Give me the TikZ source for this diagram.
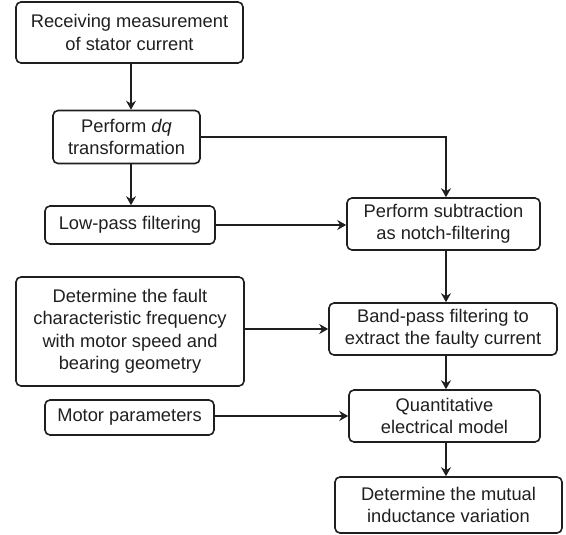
\documentclass[tikz,border=0pt]{standalone}
\usepackage{fontspec}
\setmainfont{Liberation Sans}
\usetikzlibrary{arrows.meta}
\begin{document}
\begin{tikzpicture}[x=1pt,y=-1pt,
  box/.style={draw=black!88, line width=1.6pt, rounded corners=5pt, align=center,
    inner sep=0pt, font=\fontsize{18.3}{22.5}\selectfont, text=black!88},
  link/.style={draw=black!88, line width=1.6pt,
    -{Stealth[length=9pt,width=10pt,inset=3pt]}}
]
\useasboundingbox (0,0) rectangle (566,535);
\node[box, minimum width=227pt, minimum height=61pt] (rec) at (129.5,32.5) {Receiving measurement\\of stator current};
\node[box, minimum width=147pt, minimum height=53pt] (dq) at (126.5,137) {Perform \textit{dq}\\transformation};
\node[box, minimum width=170pt, minimum height=38pt] (lp) at (130,225) {Low-pass filtering};
\node[box, minimum width=193pt, minimum height=52pt] (notch) at (443.5,224) {Perform subtraction\\as notch-filtering};
\node[box, minimum width=228pt, minimum height=109pt] (fault) at (130,331.5) {Determine the fault\\characteristic frequency\\with motor speed and\\bearing geometry};
\node[box, minimum width=228pt, minimum height=52pt] (bp) at (443,329) {Band-pass filtering to\\extract the faulty current};
\node[box, minimum width=169pt, minimum height=35pt] (mp) at (129.5,417.5) {Motor parameters};
\node[box, minimum width=191pt, minimum height=52pt] (quant) at (444.5,416) {Quantitative\\electrical model};
\node[box, minimum width=227pt, minimum height=56pt] (mut) at (448.5,505) {Determine the mutual\\inductance variation};
\coordinate (colL) at (131,0);
\coordinate (colR) at (446,0);
\draw[link] (rec.south -| colL) -- (dq.north -| colL);
\draw[link] (dq.south -| colL) -- (lp.north -| colL);
\draw[link] (dq.east) -- (dq.east -| colR) -- (notch.north -| colR);
\draw[link] (lp.east) -- (lp.east -| notch.west);
\draw[link] (notch.south -| colR) -- (bp.north -| colR);
\draw[link] (fault.east |- bp.west) -- (bp.west);
\draw[link] (bp.south -| colR) -- (quant.north -| colR);
\draw[link] (mp.east |- quant.west) -- (quant.west);
\draw[link] (quant.south -| colR) -- (mut.north -| colR);
\end{tikzpicture}
\end{document}
